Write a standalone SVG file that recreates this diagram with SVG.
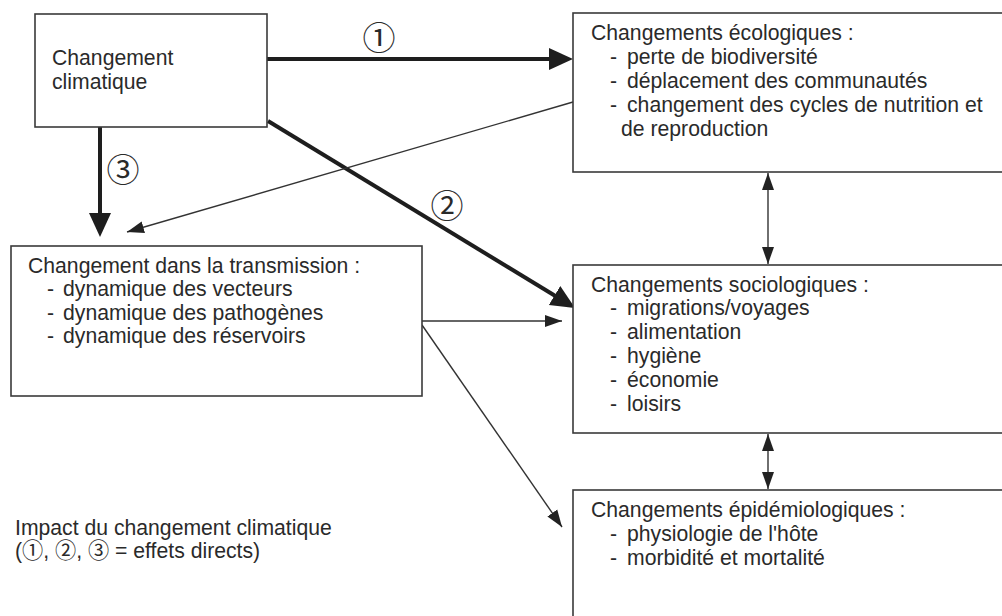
<svg xmlns="http://www.w3.org/2000/svg" width="1002" height="616" viewBox="0 0 1002 616">
<style>
.box{fill:#fff;stroke:#3a3a3a;stroke-width:1.6}
.t{font-family:"Liberation Sans",Arial,"Noto Sans CJK JP",sans-serif;font-size:21.2px;fill:#2a2a2a}
.num{font-family:"Noto Sans CJK JP","DejaVu Sans",sans-serif;font-size:33px;fill:#2a2a2a;text-anchor:middle}
.thick{stroke:#1e1e1e;stroke-width:4;fill:none}
.thin{stroke:#333;stroke-width:1.4;fill:none}
</style>
<defs>
<marker id="hb" markerUnits="userSpaceOnUse" markerWidth="26" markerHeight="24" refX="14" refY="12" orient="auto">
<path d="M0,1 L24,12 L0,23 Z" fill="#1e1e1e"/>
</marker>
<marker id="hs" markerUnits="userSpaceOnUse" markerWidth="18" markerHeight="14" refX="17" refY="7" orient="auto-start-reverse">
<path d="M0,1 L17,7 L0,13 Z" fill="#222"/>
</marker>
</defs>
<rect width="1002" height="616" fill="#fff"/>

<g id="connectors">
<line class="thick" x1="267" y1="59" x2="563" y2="59" marker-end="url(#hb)"/>
<line class="thick" x1="268" y1="121" x2="566.5" y2="302.8" marker-end="url(#hb)"/>
<line class="thick" x1="100" y1="127" x2="100" y2="227" marker-end="url(#hb)"/>
<line class="thin" x1="573" y1="102" x2="127" y2="232" marker-end="url(#hs)"/>
<line class="thin" x1="422" y1="321" x2="562" y2="321" marker-end="url(#hs)"/>
<line class="thin" x1="422" y1="325" x2="562" y2="527" marker-end="url(#hs)"/>
<line class="thin" x1="768" y1="173" x2="768" y2="264" marker-start="url(#hs)" marker-end="url(#hs)"/>
<line class="thin" x1="768" y1="434" x2="768" y2="489" marker-start="url(#hs)" marker-end="url(#hs)"/>
<text class="num" x="379" y="50">①</text>
<text class="num" x="447" y="218">②</text>
<text class="num" x="123" y="182">③</text>
</g>

<g id="climat">
<rect class="box" x="35" y="14" width="232" height="113"/>
<text class="t" x="52" y="65">Changement</text>
<text class="t" x="52" y="89">climatique</text>
</g>

<g id="ecologiques">
<rect class="box" x="573" y="13" width="440" height="159"/>
<text class="t" x="591" y="40">Changements écologiques :</text>
<text class="t" x="610" y="64">-</text><text class="t" x="627" y="64">perte de biodiversité</text>
<text class="t" x="610" y="88">-</text><text class="t" x="627" y="88">déplacement des communautés</text>
<text class="t" x="610" y="112">-</text><text class="t" x="627" y="112">changement des cycles de nutrition et</text>
<text class="t" x="621" y="136">de reproduction</text>
</g>

<g id="transmission">
<rect class="box" x="11" y="246" width="411" height="150"/>
<text class="t" x="28" y="273">Changement dans la transmission :</text>
<text class="t" x="47" y="296">-</text><text class="t" x="63" y="296">dynamique des vecteurs</text>
<text class="t" x="47" y="320">-</text><text class="t" x="63" y="320">dynamique des pathogènes</text>
<text class="t" x="47" y="343">-</text><text class="t" x="63" y="343">dynamique des réservoirs</text>
</g>

<g id="sociologiques">
<rect class="box" x="573" y="265" width="440" height="168"/>
<text class="t" x="591" y="292">Changements sociologiques :</text>
<text class="t" x="610" y="315">-</text><text class="t" x="627" y="315">migrations/voyages</text>
<text class="t" x="610" y="339">-</text><text class="t" x="627" y="339">alimentation</text>
<text class="t" x="610" y="363">-</text><text class="t" x="627" y="363">hygiène</text>
<text class="t" x="610" y="387">-</text><text class="t" x="627" y="387">économie</text>
<text class="t" x="610" y="411">-</text><text class="t" x="627" y="411">loisirs</text>
</g>

<g id="epidemiologiques">
<rect class="box" x="573" y="490" width="440" height="140"/>
<text class="t" x="591" y="517">Changements épidémiologiques :</text>
<text class="t" x="610" y="541">-</text><text class="t" x="627" y="541">physiologie de l'hôte</text>
<text class="t" x="610" y="565">-</text><text class="t" x="627" y="565">morbidité et mortalité</text>
</g>

<g id="legende">
<text class="t" x="15" y="535">Impact du changement climatique</text>
<text class="t" x="15" y="558">(①, ②, ③ = effets directs)</text>
</g>
</svg>
